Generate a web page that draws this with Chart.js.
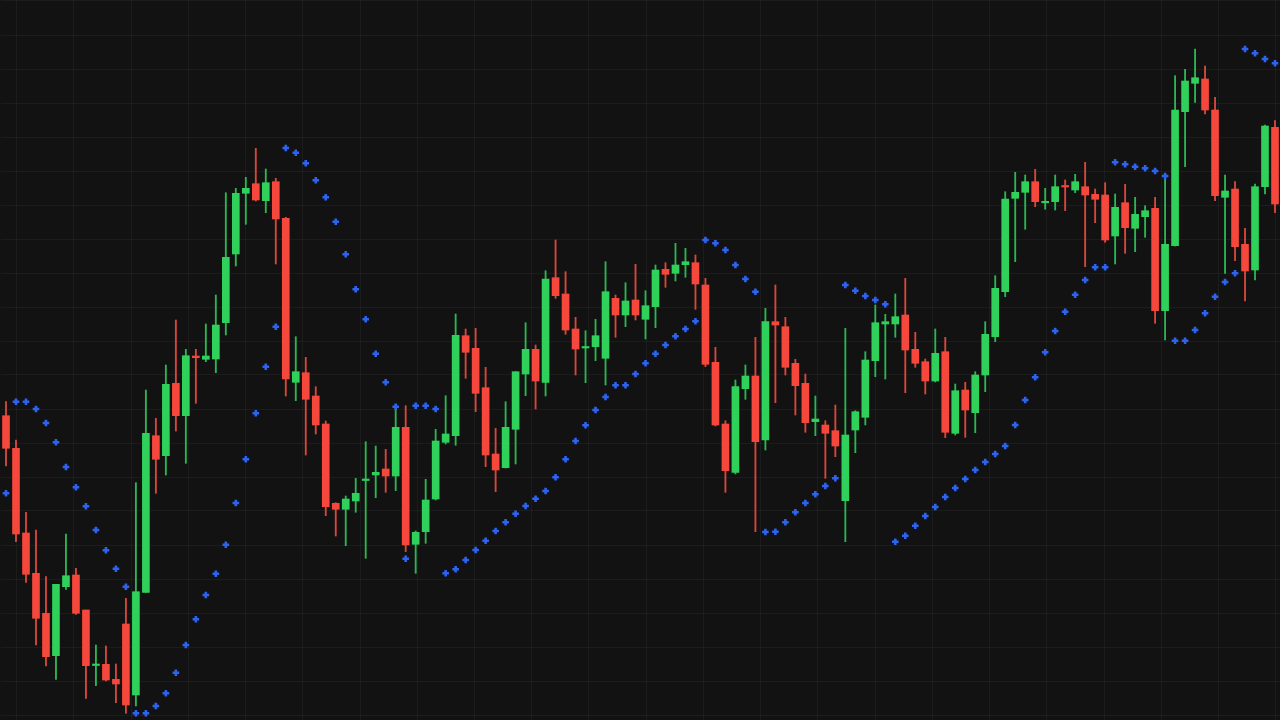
<!DOCTYPE html>
<html>
<head>
<meta charset="utf-8">
<script src="https://cdn.jsdelivr.net/npm/chart.js@4.4.1/dist/chart.umd.min.js"></script>
<style>
  html, body { margin: 0; padding: 0; background: #121212; overflow: hidden; }
  #wrap { width: 1280px; height: 720px; }
</style>
</head>
<body>
<div id="wrap"><canvas id="c" width="1280" height="720"></canvas></div>
<script>
// ---- Data ----
const openPrices = [
  304.3,271.7,187,146.7,106.7,64.3,133.3,145,110,54.5,55.7,40.7,96,25,127.7,284.3,
  264.3,336.7,304.3,364,360.7,361,397.3,466,526.7,536.3,519.3,538.3,501.7,337.7,347.3,324,
  296,216.7,210.7,219,239.5,245,251,244,292.7,175.7,188.3,221,277.7,284.3,384.3,371.7,
  332.3,266,252.3,290.7,346,370.7,337.7,442.3,426,391,372,373.3,361.7,421.7,405,420,
  400.7,413.3,450.7,446.7,455.3,457.3,435,357.7,296,247.7,331.3,344,280,398.3,393.3,356.7,
  336.7,298.3,295,289.3,219.3,290,302.7,359.3,396,396,405,370.7,358.3,339,368.3,286.7,
  330,307.3,345,383.3,428.3,521.7,527.7,538.3,517.2,518.3,533.8,530,533.3,525.7,525,484,
  517.3,491.7,503.3,511.7,409.3,474.3,608.3,636.7,641,610,522.7,531,475.7,450,533.3,592.7
];
const highPrices = [
  318.3,280,207.7,190,143.3,135.7,186,151.7,110,75,74,56,121.7,237.3,330,301.7,
  355,400,370.7,370.7,396,425,527.3,531.7,542.7,571.7,551,541.7,502.7,383.3,362.7,333.3,
  299,217.3,224,241.7,278.3,274,270.7,313.3,314.3,189,240.7,290.7,324.3,406,391,391.7,
  352.7,291.7,318.3,348.3,397.3,375,449.3,480,448.3,402.7,389.3,400.7,458.3,425,437.3,455.7,
  429.3,455,457.3,476.7,471.7,465,441.7,372.7,299.3,340,355,382.7,411.7,435,402.7,360.7,
  346,324,299.3,315,391.7,309.3,368.3,415,405.7,426,441.7,387.7,361,391,382.7,336,
  337.7,348.3,398.3,444.3,528.3,547.7,545,550.7,531.7,545,540,545.7,557.7,531,537.3,526,
  535.7,522.7,514.3,522.7,542.7,644.3,650.7,671,654,622.7,545,538.3,491.7,536,595,599.3
];
const lowPrices = [
  254,178.3,137.7,75,54,40.7,130.7,105.7,21.7,34.3,39,17.3,6.7,14,127.7,226.7,
  245,289,256.7,316.7,358.3,347.3,385,454,495.7,519,507.3,456,324,319.3,265,286,
  204.3,184,174.3,207.7,161.7,222.3,227.7,229.3,168.3,146.7,176.7,220,276,274.7,341.7,308.3,
  253.3,228.3,252,256,324.3,311,324,421.7,385.7,345,337.3,359.3,335,382.7,393.3,400,
  381,392.3,432.7,439,442.7,410.7,353.3,294,227.7,246,320.7,188.3,270,317.3,345,305,
  287.7,284.3,241.7,263.3,178.3,267.3,295,343.3,341,382.7,327.3,352.7,326,338,282.3,285,
  282.7,287.3,328.3,378.3,423.3,458.3,490.7,513.3,510.7,510,509.3,527.3,453.3,497.3,477.7,456,
  466.7,468.3,482.7,396.7,380,474,553.3,617.7,606,519.3,446.7,459.3,419,440,526,507.3
];
const closePrices = [
  271.7,186,145.7,101.7,63.3,135.7,144.3,106.7,54.3,55.5,40,36,15,128.3,286.7,260.7,
  335.7,304.3,364.3,362.3,364,395,462.7,526.7,531.7,520,537.3,501,341,348.3,320.7,295,
  213.3,210.7,221,226.7,240.5,247.7,244,292.7,175,187.7,220,279,286,384.7,367.7,326.7,
  265,250,292.7,348.3,370.7,339,441,424.3,390,371,372.8,384.3,428.3,405,419,405,
  414.3,450,445.7,455,458.3,436,355.7,295,249.3,333.3,344,278.3,398.3,395,352.7,334.3,
  297.3,301,286.7,274,285,308.3,360,397.3,398.3,403.3,370,356.7,339,366.7,287.7,329.3,
  310,345,385.7,431.7,521,527.7,538.3,518.3,518.2,533.3,533,538.3,525,520.7,480,512.7,
  492.3,505.7,509.3,409.3,475.7,610,639,642.3,610,524.3,529,473.3,449,533.3,594,516
];
const sarValues = [
  226.7,318.3,318.3,311,297,277.7,253,232.7,213.7,190,169.7,151.3,133.3,6.7,6.7,14,
  26.7,47.3,75,100.7,125,146.3,175.3,217,260.7,306.7,353.3,393.3,572,567.3,556.7,539.7,
  522.7,498.3,465.7,430.7,400.7,366.3,337.7,313.3,161.3,314.3,314.3,311,146.7,150.7,160,170,
  179.3,189,197.7,206.3,214,221.3,229,242.7,260.7,279,294.7,310,323,334.7,334.7,346,
  356.7,366.3,375,383.7,391,398.7,480,476.7,470,455,441,428.3,188,188.3,197.7,207.7,
  217,225.7,234,241.7,435,429.3,424,420,415.7,178.3,184.3,194.3,204,213,223,232,
  241,250,258,266,274,295,320,342.7,367.7,389,408.3,425.3,440,452.7,452.7,557.7,
  555.7,553.3,551.7,549,544,379.3,379.3,390,406.7,423.3,438,446.7,671,666.7,661,656.7
];
const categories = openPrices.map((_, i) => 'Bar ' + (i + 1));

// ---- Styles ----
const UP = '#2fd15b';
const DOWN = '#f5473b';
const UP_WICK = '#2bb553';
const DOWN_WICK = '#d9473b';
const SAR_COLOR = '#2e63f0';
const GRID = 'rgba(255,255,255,0.045)';

const isUp = openPrices.map((o, i) => closePrices[i] >= o);
const bodyData = openPrices.map((o, i) => [o, closePrices[i]]);
const wickData = lowPrices.map((l, i) => [l, highPrices[i]]);

const bgPlugin = {
  id: 'bg',
  beforeDraw(chart) {
    const ctx = chart.ctx;
    ctx.save();
    ctx.fillStyle = '#121212';
    ctx.fillRect(0, 0, chart.width, chart.height);
    ctx.restore();
  }
};

new Chart(document.getElementById('c'), {
  type: 'bar',
  data: {
    labels: categories,
    datasets: [
      {
        type: 'line',
        label: 'SAR',
        data: sarValues,
        showLine: false,
        clip: false,
        pointStyle: 'cross',
        pointRadius: 3.3,
        pointBorderWidth: 2.6,
        pointBorderColor: SAR_COLOR,
        pointBackgroundColor: SAR_COLOR,
        order: 0
      },
      {
        label: 'Body',
        data: bodyData,
        backgroundColor: isUp.map(u => u ? UP : DOWN),
        borderWidth: 0,
        barThickness: 7,
        minBarLength: 1.5,
        grouped: false,
        order: 1
      },
      {
        label: 'Wick',
        data: wickData,
        backgroundColor: isUp.map(u => u ? UP_WICK : DOWN_WICK),
        borderWidth: 0,
        barThickness: 1.2,
        grouped: false,
        order: 2
      }
    ]
  },
  options: {
    responsive: false,
    animation: false,
    maintainAspectRatio: false,
    layout: { autoPadding: false, padding: { left: 1, right: 0, top: 0, bottom: 0 } },
    plugins: { legend: { display: false }, tooltip: { enabled: false } },
    scales: {
      x: { display: false },
      xg: {
        type: 'linear', position: 'bottom', min: 0, max: 1280,
        ticks: { display: false, padding: 0 },
        grid: { color: GRID, drawTicks: false, tickLength: 0, lineWidth: 1 },
        border: { display: false },
        afterBuildTicks(axis) {
          const t = [];
          for (let v = 16; v < 1280; v += 60) t.push({ value: v });
          axis.ticks = t;
        }
      },
      y: {
        min: 0, max: 720,
        ticks: { display: false, padding: 0 },
        grid: { color: GRID, drawTicks: false, tickLength: 0, lineWidth: 1 },
        border: { display: false },
        afterBuildTicks(axis) {
          const t = [];
          for (let v = 719; v > 0; v -= 34) t.push({ value: v });
          axis.ticks = t;
        }
      }
    }
  },
  plugins: [bgPlugin]
});
</script>
</body>
</html>
